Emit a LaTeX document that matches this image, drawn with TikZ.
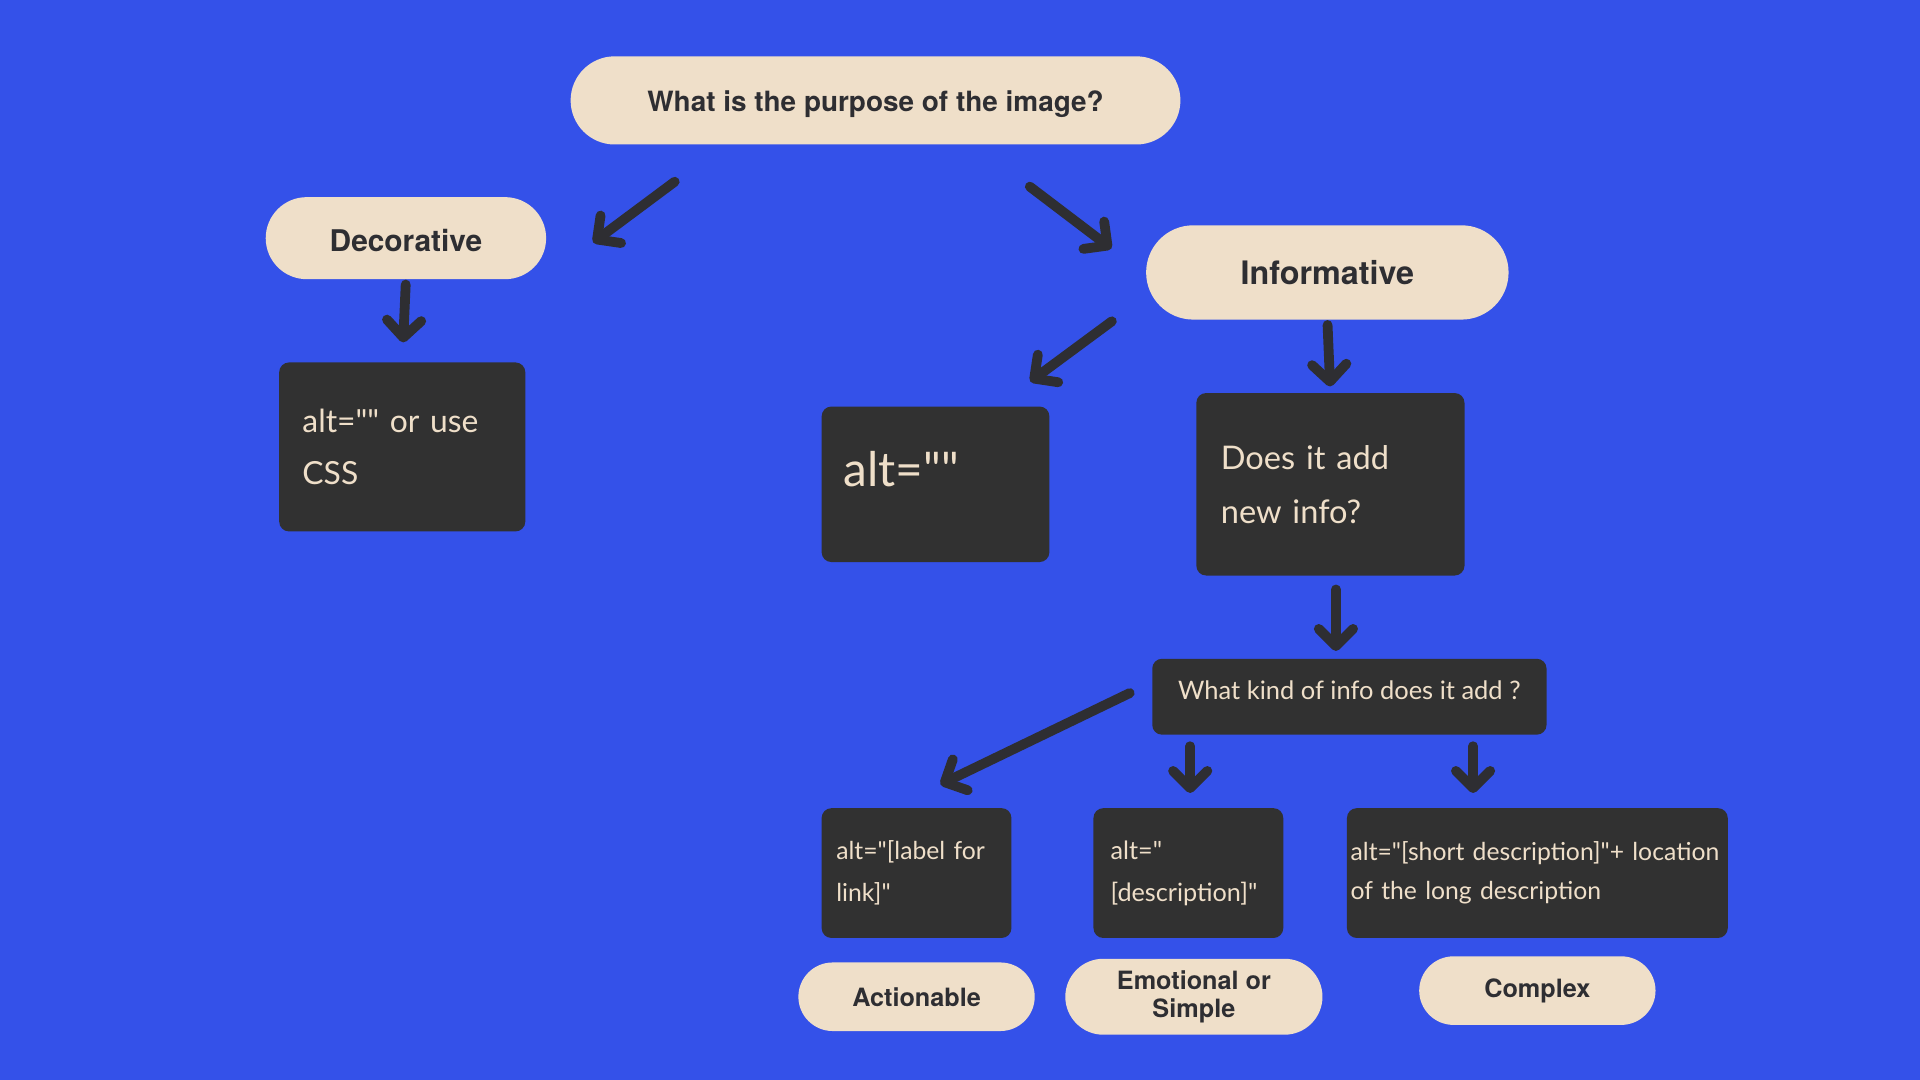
\documentclass[tikz,border=0pt]{standalone}
\usepackage{fontspec}
\usepackage{tikz}
\usetikzlibrary{positioning}
\usetikzlibrary{calc,arrows.meta,shapes.misc}
\newfontfamily\pillfont{TeX Gyre Heros}
\newfontfamily\boxfont{Lato}
\definecolor{bluebg}{RGB}{52,81,233}
\definecolor{cream}{RGB}{239,223,201}
\definecolor{boxgray}{RGB}{49,49,49}
\definecolor{ink}{RGB}{46,46,50}
\hyphenpenalty=10000
\tikzset{
  pill/.style = {rounded rectangle, fill=cream, text=ink, align=center,
    inner sep=0pt},% question or answer
  darkbox/.style = {rectangle, rounded corners=4pt, fill=boxgray, text=cream,
    align=left, inner ysep=0pt},% alt text advice
  arr/.style = {draw=ink, line width=4pt, line cap=round,
    -{Straight Barb[length=7pt, width=14pt, line cap=round, line join=round]}}% hand drawn arrow
}

\begin{document}
\begin{tikzpicture}[x=0.5pt, y=-0.5pt]
\fill[bluebg] (0,0) rectangle (1568,882);
% questions and answers
\node[pill, minimum width=249pt, minimum height=36pt,
  font=\pillfont\bfseries\fontsize{11.4}{13}\selectfont] (purpose) at (715,82) {\raisebox{-1.5pt}[\height][\depth]{What is the purpose of the image?}};
\node[pill, minimum width=114.5pt, minimum height=33.5pt,
  font=\pillfont\bfseries\fontsize{12.2}{14}\selectfont] (deco) at (331.5,194.5) {\raisebox{-1pt}[\height][\depth]{Decorative}};
\node[pill, minimum width=148pt, minimum height=38.5pt,
  font=\pillfont\bfseries\fontsize{13.2}{15}\selectfont] (info) at (1084,222.5) {Informative};
\node[pill, minimum width=96.5pt, minimum height=28pt,
  font=\pillfont\bfseries\fontsize{10.3}{11.5}\selectfont] (action) at (748.5,814) {Actionable};
\node[pill, minimum width=105pt, minimum height=31pt,
  font=\pillfont\bfseries\fontsize{10.3}{11.5}\selectfont] (emo) at (975,814) {Emotional or\\Simple};
\node[pill, minimum width=96.5pt, minimum height=28pt,
  font=\pillfont\bfseries\fontsize{10.3}{11.5}\selectfont] (complex) at (1255.5,809) {Complex};
% dark boxes
\node[darkbox, text width=81.5pt, inner xsep=9.5pt, minimum height=69pt,
  font=\boxfont\fontsize{13}{21.5}\selectfont] (css) at (328.5,365) {alt="" or use\\CSS};
\node[darkbox, text width=75pt, inner xsep=9pt, minimum height=63.5pt,
  font=\boxfont\fontsize{19.5}{24}\selectfont] (empty) at (764,395.5) {\raisebox{6pt}[\height][\depth]{alt=""}};
\node[darkbox, text width=89.5pt, inner xsep=10pt, minimum height=74.5pt,
  font=\boxfont\fontsize{13.3}{22}\selectfont] (adds) at (1086.5,395.5) {Does it add\\new info?};
\node[darkbox, minimum width=161pt, minimum height=31pt,
  font=\boxfont\fontsize{10.4}{13}\selectfont] (kind) at (1102,569) {\raisebox{2.5pt}[\height][\depth]{What kind of info does it add ?}};
\node[darkbox, text width=65.5pt, inner xsep=6pt, minimum height=53pt,
  font=\boxfont\fontsize{10.1}{17}\selectfont] (label) at (748.5,713) {alt="[label for\\link]"};
\node[darkbox, text width=63.5pt, inner xsep=7pt, minimum height=53pt,
  font=\boxfont\fontsize{10.3}{17}\selectfont] (desc) at (970.5,713) {alt="\\{}[description]"};
\node[darkbox, text width=152.5pt, inner xsep=1.5pt, minimum height=53pt,
  font=\boxfont\fontsize{10.1}{16}\selectfont] (long) at (1255.5,713) {alt="[short description]"+ location\\of the long description};
% arrows
\draw[arr] ($(purpose.south)+(-164,30)$) -- ($(deco.east)+(38,3.5)$);
\draw[arr] ($(purpose.south)+(126,34)$) -- ($(info.west)+(-28,-19.5)$);
\draw[arr, shorten <=2pt, shorten >=8pt] (deco.south) -- (css.north);
\draw[arr] ($(info.south)+(-176,1)$) -- ($(empty.north east)+(-16,-20)$);
\draw[arr, shorten <=2pt, shorten >=2.5pt] (info.south) -- (adds.north);
\draw[arr] ($(adds.south)+(4.5,11)$) -- ($(kind.north)+(-11,-6)$);
\draw[arr] ($(kind.west)+(-18,-3)$) -- ($(label.north)+(19.5,-19)$);
\draw[arr] ($(kind.south -| desc.north)+(1.5,9)$) -- ($(desc.north)+(1.5,-12)$);
\draw[arr] ($(kind.south)+(101,9)$) -- ($(long.north)+(-52.5,-12)$);
\end{tikzpicture}
\end{document}
